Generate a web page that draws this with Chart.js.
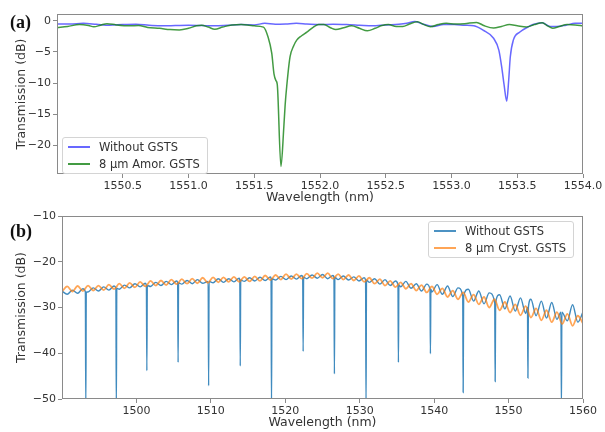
<!DOCTYPE html>
<html>
<head>
<meta charset="utf-8">
<script src="https://cdn.jsdelivr.net/npm/chart.js@4.4.0/dist/chart.umd.min.js"></script>
<style>
  body { margin: 0; background: #fff; width: 605px; height: 432px; position: relative; overflow: hidden; font-family: "DejaVu Sans", sans-serif; }
  canvas { position: absolute; left: 0; }
  #chartA { top: 0; }
  #chartB { top: 200px; }
  .tag { position: absolute; font: bold 18px "Liberation Serif", serif; color: #111; }
  .leg { position: absolute; background: rgba(255,255,255,0.85); border: 1px solid #d4d4d4; border-radius: 3px; font-size: 11.5px; color: #333; padding: 1px 7px 1px 5px; }
  .leg div { display: flex; align-items: center; height: 16.5px; white-space: nowrap; }
  .leg i { display: inline-block; width: 22px; height: 2px; margin-right: 9px; }
</style>
</head>
<body>
<canvas id="chartA" width="605" height="212"></canvas>
<canvas id="chartB" width="605" height="232"></canvas>
<div class="tag" style="left:10px;top:12px">(a)</div>
<div class="tag" style="left:10px;top:221px">(b)</div>
<div class="leg" style="left:62px;top:137px">
  <div><i style="background:rgba(40,40,255,0.7)"></i>Without GSTS</div>
  <div><i style="background:rgba(20,130,20,0.8)"></i>8 µm Amor. GSTS</div>
</div>
<div class="leg" style="left:428px;top:221px">
  <div><i style="background:rgba(31,119,180,0.8)"></i>Without GSTS</div>
  <div><i style="background:rgba(255,127,14,0.7)"></i>8 µm Cryst. GSTS</div>
</div>

<script>
// ---- panel (a): narrow window, 1550-1554 nm ----
const wlBlueA = [1550.00,1550.10,1550.20,1550.30,1550.40,1550.50,1550.60,1550.70,1550.80,1550.90,
  1551.00,1551.10,1551.20,1551.30,1551.40,1551.50,1551.58,1551.66,1551.74,1551.82,1551.90,
  1552.00,1552.10,1552.20,1552.30,1552.40,1552.50,1552.60,1552.66,1552.72,1552.78,1552.86,
  1552.94,1553.02,1553.10,1553.17,1553.24,1553.32,1553.36,1553.385,1553.40,1553.42,1553.435,
  1553.447,1553.47,1553.52,1553.58,1553.62,1553.69,1553.75,1553.80,1553.87,1553.94,1554.00];
const tBlueA = [-0.5,-0.5,-0.4,-0.55,-0.7,-0.6,-0.55,-0.7,-0.8,-0.75,
  -0.7,-0.75,-0.8,-0.7,-0.6,-0.65,-0.4,-0.55,-0.5,-0.4,-0.5,
  -0.6,-0.55,-0.6,-0.7,-0.8,-0.65,-0.55,-0.4,-0.1,-0.5,-0.9,
  -0.6,-0.6,-0.7,-0.8,-1.5,-2.8,-4.7,-7.9,-10.3,-12.9,-9.5,
  -5.8,-3.1,-1.8,-1.0,-0.6,-0.3,-0.9,-0.9,-0.7,-0.4,-0.4];

const wlGreenA = [1550.00,1550.08,1550.17,1550.24,1550.28,1550.33,1550.38,1550.45,1550.55,1550.62,
  1550.69,1550.78,1550.86,1550.93,1551.00,1551.06,1551.10,1551.15,1551.20,1551.26,1551.33,
  1551.40,1551.46,1551.50,1551.57,1551.605,1551.633,1551.65,1551.665,1551.675,1551.703,
  1551.725,1551.735,1551.747,1551.772,1551.80,1551.823,1551.86,1551.90,1551.95,1551.99,
  1552.03,1552.08,1552.12,1552.18,1552.24,1552.30,1552.36,1552.42,1552.47,1552.52,1552.58,
  1552.63,1552.68,1552.74,1552.79,1552.84,1552.90,1552.96,1553.03,1553.10,1553.19,1553.25,
  1553.32,1553.38,1553.44,1553.50,1553.57,1553.63,1553.69,1553.73,1553.77,1553.82,1553.88,
  1553.94,1554.00];
const tGreenA = [-1.1,-0.9,-0.6,-0.75,-0.95,-0.7,-0.45,-0.65,-0.8,-0.75,
  -1.05,-1.2,-1.4,-1.45,-1.2,-0.8,-0.7,-1.0,-1.35,-1.0,-0.65,
  -0.6,-0.7,-0.8,-1.0,-2.6,-5.2,-8.5,-9.6,-10.2,-23.4,
  -17,-13.5,-10.5,-5.8,-4.0,-3.1,-2.4,-1.8,-1.0,-0.6,
  -0.6,-1.1,-1.4,-1.1,-0.8,-1.2,-1.6,-1.2,-0.75,-0.6,-0.9,
  -0.9,-0.5,-0.15,-0.6,-0.95,-0.6,-0.4,-0.5,-0.45,-0.25,-0.8,
  -1.15,-0.9,-0.6,-0.8,-1.0,-0.6,-0.3,-0.8,-1.2,-0.9,-0.6,
  -0.65,-0.8];

const xTicksA = [1550.5,1551.0,1551.5,1552.0,1552.5,1553.0,1553.5,1554.0];
const yTicksA = [0,-5,-10,-15,-20];

// ---- panel (b): broadband sweep, 1490-1560 nm ----
const wlB = [1490.0,1490.7,1491.4,1492.1,1492.8,1493.5,1494.2,1494.9,1495.6,1496.3,
  1497.0,1497.7,1498.4,1499.1,1499.8,1500.5,1501.2,1501.9,1502.6,1503.3,
  1504.0,1504.7,1505.4,1506.1,1506.8,1507.5,1508.2,1508.9,1509.6,1510.3,
  1511.0,1511.7,1512.4,1513.1,1513.8,1514.5,1515.2,1515.9,1516.6,1517.3,
  1518.0,1518.7,1519.4,1520.1,1520.8,1521.5,1522.2,1522.9,1523.6,1524.3,
  1525.0,1525.7,1526.4,1527.1,1527.8,1528.5,1529.2,1529.9,1530.6,1531.3,
  1532.0,1532.7,1533.4,1534.1,1534.8,1535.5,1536.2,1536.9,1537.6,1538.3,
  1539.0,1539.7,1540.4,1541.1,1541.8,1542.5,1543.2,1543.9,1544.6,1545.3,
  1546.0,1546.7,1547.4,1548.1,1548.8,1549.5,1550.2,1550.9,1551.6,1552.3,
  1553.0,1553.7,1554.4,1555.1,1555.8,1556.5,1557.2,1557.9,1558.6,1559.3,
  1560.0];
const tBlueB = [-26.4,-27.1,-26.2,-26.9,-25.9,-26.6,-25.7,-26.4,-25.5,-26.2,
  -25.3,-26.0,-25.1,-25.7,-24.8,-25.5,-24.7,-25.4,-24.5,-25.2,
  -24.3,-25.0,-24.2,-24.9,-24.1,-24.8,-23.9,-24.7,-23.8,-24.6,
  -23.7,-24.5,-23.7,-24.4,-23.6,-24.3,-23.5,-24.2,-23.4,-24.1,
  -23.3,-24.0,-23.2,-23.9,-23.1,-23.8,-23.0,-23.7,-22.9,-23.6,
  -22.8,-23.7,-23.0,-23.9,-23.1,-24.0,-23.3,-24.2,-23.5,-24.5,
  -23.7,-24.9,-23.9,-25.2,-24.2,-25.5,-24.3,-25.8,-24.8,-26.4,
  -24.9,-26.6,-25.0,-27.1,-25.3,-27.6,-25.7,-28.1,-26.0,-28.6,
  -26.4,-29.2,-26.8,-29.7,-27.2,-30.3,-27.5,-30.8,-27.9,-31.3,
  -28.2,-31.8,-28.6,-32.3,-28.9,-32.6,-29.1,-32.9,-29.4,-33.2,
  -31.0];
const tOrangeB = [-26.55,-25.4,-26.5,-25.3,-26.4,-25.2,-26.3,-25.2,-26.2,-25.0,
  -26.0,-24.8,-25.8,-24.6,-25.6,-24.4,-25.4,-24.2,-25.2,-24.1,
  -25.1,-23.9,-24.9,-23.8,-24.8,-23.7,-24.7,-23.5,-24.6,-23.4,
  -24.5,-23.4,-24.4,-23.3,-24.4,-23.3,-24.3,-23.2,-24.2,-23.0,
  -24.0,-22.9,-23.9,-22.7,-23.8,-22.7,-23.7,-22.6,-23.6,-22.5,
  -23.5,-22.5,-23.7,-22.7,-23.9,-22.9,-24.1,-23.1,-24.4,-23.5,
  -24.8,-23.8,-25.2,-24.2,-25.55,-24.5,-25.9,-24.8,-26.3,-25.1,
  -26.7,-25.4,-27.1,-25.8,-27.7,-26.3,-28.2,-26.7,-28.8,-27.2,
  -29.3,-27.7,-30.0,-28.2,-30.6,-28.8,-31.1,-29.3,-31.7,-29.7,
  -32.2,-30.2,-32.8,-30.6,-33.2,-31.0,-33.6,-31.4,-34.0,-31.8,
  -33.5];

// ring resonances seen without GSTS
const dipWl = [1493.2,1497.3,1501.4,1505.6,1509.7,1513.95,1518.15,1522.4,1526.6,1530.85,1535.2,1539.5,1543.9,1548.2,1552.6,1557.1];
const dipTop = [-26.6,-25.8,-25.2,-24.6,-24.3,-24.0,-23.7,-23.4,-23.4,-24.0,-25.0,-26.0,-27.5,-29.0,-30.0,-31.0];
const dipDepth = [-52,-52,-43.8,-42,-47.1,-42.8,-52,-39.6,-44.5,-52,-42,-40.1,-48.6,-46.2,-45.4,-52];

const xTicksB = [1500,1510,1520,1530,1540,1550,1560];
const yTicksB = [-10,-20,-30,-40,-50];

const axisGray = '#8a8a8a';
const textGray = '#333';

const framePlugin = {
  id: 'frame',
  afterDatasetsDraw(chart) {
    const a = chart.chartArea, ctx = chart.ctx;
    ctx.save();
    ctx.strokeStyle = axisGray;
    ctx.lineWidth = 1;
    ctx.strokeRect(Math.round(a.left) + 0.5, Math.round(a.top) + 0.5, Math.round(a.right - a.left) - 1, Math.round(a.bottom - a.top) - 1);
    ctx.restore();
  }
};

const pts = (xs, ys) => xs.map((x, i) => ({ x: x, y: ys[i] }));
const minus = v => String(v).replace('-', '\u2212');

function axes(o) {
  return {
    x: {
      type: 'linear', min: o.xmin, max: o.xmax,
      afterBuildTicks: s => { s.ticks = o.xTicks.map(v => ({ value: v })); },
      afterFit: s => { s.height = o.xh; },
      ticks: { autoSkip: false, maxRotation: 0, padding: 2, color: textGray, font: { size: 11, family: 'DejaVu Sans' }, callback: o.xFmt },
      grid: { drawOnChartArea: false, drawTicks: true, tickLength: 4, color: axisGray },
      border: { display: false },
      title: { display: true, text: 'Wavelength (nm)', color: textGray, font: { size: 12.5, family: 'DejaVu Sans' }, padding: { top: 0, bottom: o.tpad } }
    },
    y: {
      min: o.ymin, max: o.ymax,
      afterBuildTicks: s => { s.ticks = o.yTicks.map(v => ({ value: v })); },
      afterFit: s => { s.width = o.yw; },
      ticks: { padding: 2, color: textGray, font: { size: 11, family: 'DejaVu Sans' }, callback: v => minus(v) },
      grid: { drawOnChartArea: false, drawTicks: true, tickLength: 4, color: axisGray },
      border: { display: false },
      title: { display: true, text: 'Transmission (dB)', color: textGray, font: { size: 12.5, family: 'DejaVu Sans' }, padding: { top: 14, bottom: 0 } }
    }
  };
}

const common = {
  responsive: false,
  animation: false,
  events: [],
  plugins: { legend: { display: false }, tooltip: { enabled: false } },
  elements: { point: { radius: 0 } }
};

new Chart(document.getElementById('chartA'), {
  type: 'line',
  data: {
    datasets: [
      { label: 'Without GSTS', data: pts(wlBlueA, tBlueA), borderColor: 'rgba(40,40,255,0.7)', borderWidth: 1.5, cubicInterpolationMode: 'monotone', order: 1 },
      { label: '8 µm Amor. GSTS', data: pts(wlGreenA, tGreenA), borderColor: 'rgba(20,130,20,0.8)', borderWidth: 1.5, cubicInterpolationMode: 'monotone', order: 0 }
    ]
  },
  options: Object.assign({}, common, {
    layout: { padding: { top: 14, right: 22, left: 0, bottom: 0 } },
    scales: axes({ xmin: 1550, xmax: 1554, ymin: -24.6, ymax: 1.1, xTicks: xTicksA, yTicks: yTicksA,
      xFmt: v => v.toFixed(1), xh: 38, yw: 57, tpad: 6.5 })
  }),
  plugins: [framePlugin]
});

// blue trace (b): ripple points plus the resonance dips, sorted by wavelength
let blueB = pts(wlB, tBlueB).filter(p => !dipWl.some(d => Math.abs(p.x - d) < 0.12));
dipWl.forEach((d, i) => {
  blueB.push({ x: d - 0.06, y: dipTop[i] }, { x: d, y: dipDepth[i] }, { x: d + 0.06, y: dipTop[i] });
});
blueB.sort((a, b) => a.x - b.x);

new Chart(document.getElementById('chartB'), {
  type: 'line',
  data: {
    datasets: [
      { label: 'Without GSTS', data: blueB, borderColor: 'rgba(31,119,180,0.85)', borderWidth: 1.4, cubicInterpolationMode: 'monotone', order: 1 },
      { label: '8 µm Cryst. GSTS', data: pts(wlB, tOrangeB), borderColor: 'rgba(255,127,14,0.7)', borderWidth: 1.8, cubicInterpolationMode: 'monotone', order: 0 }
    ]
  },
  options: Object.assign({}, common, {
    layout: { padding: { top: 16, right: 22, left: 0, bottom: 0 } },
    scales: axes({ xmin: 1490, xmax: 1560, ymin: -50, ymax: -10, xTicks: xTicksB, yTicks: yTicksB,
      xFmt: v => String(v), xh: 33, yw: 62, tpad: 1.5 })
  }),
  plugins: [framePlugin]
});
</script>
</body>
</html>
